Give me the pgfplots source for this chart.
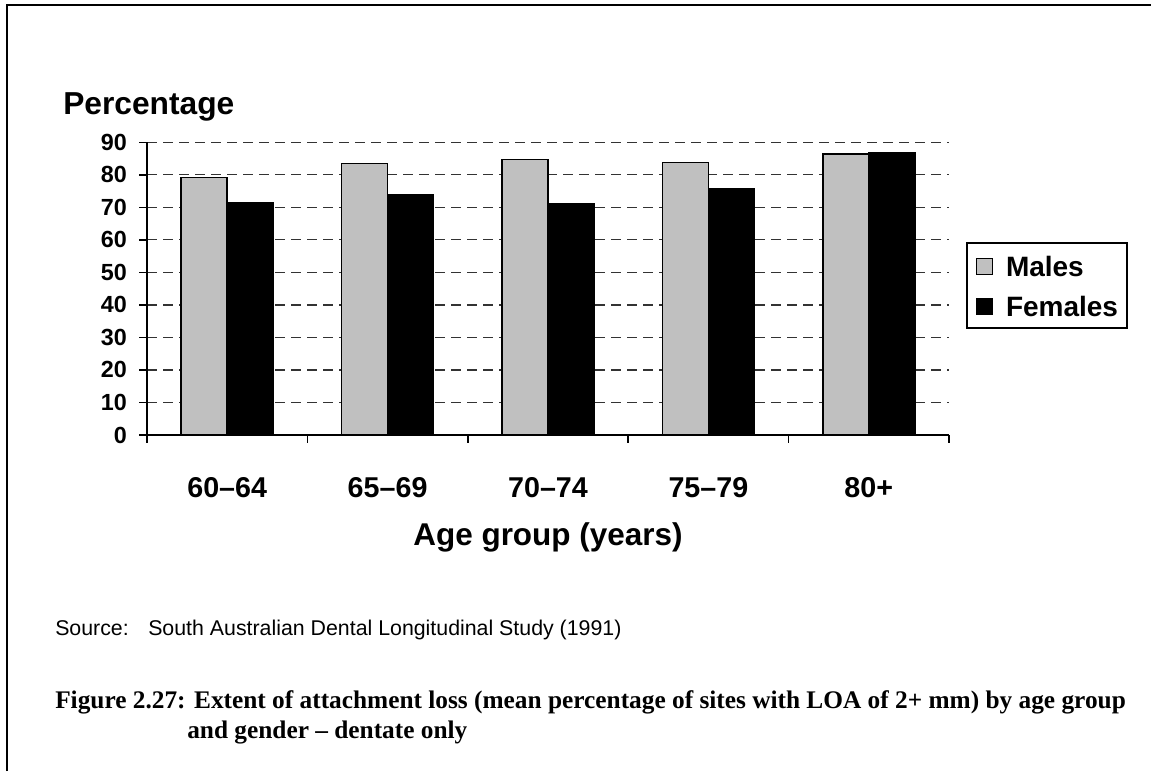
\documentclass[border=0pt]{standalone}
\usepackage{fontspec}
\setmainfont{Liberation Sans}
\newfontfamily\capfont{Liberation Serif}
\usepackage{pgfplots}
\pgfplotsset{compat=1.18}

\definecolor{malegray}{RGB}{192,192,192}

\begin{document}
\begin{tikzpicture}[x=0.75pt,y=0.75pt]
\path[use as bounding box] (0,0) rectangle (1151,771);
% frame of the page
\draw[line width=1.5pt] (7,0) -- (7,766) -- (1151,766);

\begin{axis}[
  at={(110.25pt,252pt)}, anchor=south west,
  scale only axis,
  width=601.5pt, height=219.5pt,
  xmin=-0.5, xmax=4.5,
  ymin=0, ymax=90,
  axis x line*=bottom, axis y line*=left,
  axis line style={line width=1.5pt},
  xtick={-0.5,0.5,...,4.5},
  xticklabel=\empty,
  extra x ticks={0,1,2,3,4},
  extra x tick labels={60--64,65--69,70--74,75--79,80+},
  extra x tick style={tick style={draw=none}},
  ytick={0,10,...,90},
  tick align=outside,
  major tick length=6pt,
  tick style={black,line width=1.2pt},
  ymajorgrids,
  major grid style={line width=0.9pt, black!80, dash pattern=on 7.5pt off 4.5pt},
  /pgf/number format/assume math mode=true,
  yticklabel style={font=\bfseries\fontsize{17.5}{17.5}\selectfont, anchor=east, inner sep=0pt, xshift=-9pt},
  xticklabel style={font=\bfseries\fontsize{21.5}{21.5}\selectfont, anchor=base, inner sep=0pt, yshift=-41.25pt},
  legend style={at={(axis description cs:1.0212,0.6594)}, anchor=north west,
    draw=black, line width=1.5pt,
    font=\bfseries\fontsize{21}{21}\selectfont,
    inner xsep=7pt, inner ysep=9pt, row sep=14pt,
    nodes={inner sep=0pt, text height=16pt, text depth=0pt},
    /tikz/every odd column/.append style={column sep=10pt}},
  legend cell align=left,
]

% Males
\addplot[ybar, bar width=0.287, bar shift=-0.1435, fill=malegray, draw=black, line width=1.2pt,
  legend image code/.code={\draw[fill=malegray,draw=black,line width=0.75pt] (0pt,-6.25pt) rectangle (11.5pt,5.25pt);}]
  coordinates {(0,79.2) (1,83.5) (2,84.7) (3,83.8) (4,86.4)};

% Females
\addplot[ybar, bar width=0.287, bar shift=0.1435, fill=black, draw=black, line width=1.2pt,
  legend image code/.code={\draw[fill=black,draw=black,line width=0.75pt] (0pt,-6.25pt) rectangle (11.5pt,5.25pt);}]
  coordinates {(0,71.5) (1,73.9) (2,71.2) (3,75.7) (4,86.7)};

\legend{Males,Females}
\end{axis}

\node[anchor=base west, inner sep=0pt, font=\bfseries\fontsize{23.8}{23.8}\selectfont] at (63,656) {Percentage};
\node[anchor=base, inner sep=0pt, font=\bfseries\fontsize{23.6}{23.6}\selectfont] at (548,226) {Age group (years)};

\node[anchor=base west, inner sep=0pt, font=\fontsize{16}{16}\selectfont] at (55,136) {Source:};
\node[anchor=base west, inner sep=0pt, font=\fontsize{16}{16}\selectfont] at (148,136) {South Australian Dental Longitudinal Study (1991)};

\node[anchor=base west, inner sep=0pt, font=\capfont\bfseries\fontsize{19}{19}\selectfont] at (55,63)
  {Figure 2.27: Extent of attachment loss (mean percentage of sites with LOA of 2+ mm) by age group};
\node[anchor=base west, inner sep=0pt, font=\capfont\bfseries\fontsize{19}{19}\selectfont] at (187,33)
  {and gender – dentate only};
\end{tikzpicture}
\end{document}
